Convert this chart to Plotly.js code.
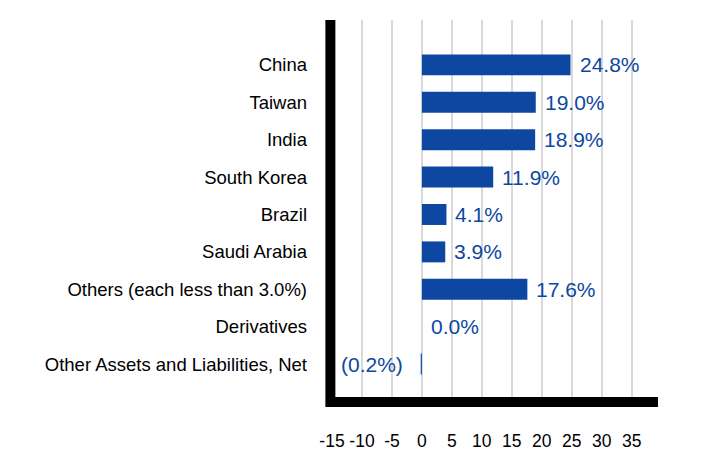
<!DOCTYPE html>
<html>
<head>
<meta charset="utf-8">
<script src="https://cdn.plot.ly/plotly-3.0.1.min.js"></script>
<style>
  html, body { margin: 0; padding: 0; background: #fff; }
  #plot { width: 708px; height: 468px; }
</style>
</head>
<body>
<div id="plot"></div>
<script>
// categories, top to bottom
let countries = [
  "China",
  "Taiwan",
  "India",
  "South Korea",
  "Brazil",
  "Saudi Arabia",
  "Others (each less than 3.0%)",
  "Derivatives",
  "Other Assets and Liabilities, Net"
];

// weights in percent
let weights = [24.8, 19.0, 18.9, 11.9, 4.1, 3.9, 17.6, 0.0, -0.2];

// label text shown next to each bar
let labels = ["24.8%", "19.0%", "18.9%", "11.9%", "4.1%", "3.9%", "17.6%", "0.0%", "(0.2%)"];

let xTicks = [-15, -10, -5, 0, 5, 10, 15, 20, 25, 30, 35];

let blue = "#0d47a1";
let fontFam = "'Liberation Sans', Arial, sans-serif";

let trace1 = {
  x: weights,
  y: countries,
  type: "bar",
  orientation: "h",
  width: 0.56,
  marker: { color: blue, line: { width: 0 } },
  hoverinfo: "none"
};

// value labels placed at the bar ends
let notes = countries.map((c, i) => ({
  x: weights[i],
  y: c,
  xref: "x",
  yref: "y",
  text: labels[i],
  showarrow: false,
  xanchor: weights[i] < 0 ? "right" : "left",
  xshift: weights[i] < 0 ? -16 : 7,
  font: { family: fontFam, size: 21, color: blue }
}));

let layout = {
  width: 708,
  height: 468,
  margin: { l: 331.7, r: 50, t: 20, b: 71 },
  paper_bgcolor: "#fff",
  plot_bgcolor: "#fff",
  showlegend: false,
  font: { family: fontFam, size: 16, color: "#000" },
  xaxis: {
    range: [-15, 39.4],
    tickvals: xTicks,
    ticktext: xTicks.map(String),
    showgrid: true,
    gridcolor: "#d9d9d9",
    gridwidth: 2,
    zeroline: false,
    showline: true,
    linecolor: "#000",
    linewidth: 10,
    ticks: "",
    ticklabelstandoff: 19,
    tickfont: { size: 17.5 },
    fixedrange: true
  },
  yaxis: {
    type: "category",
    categoryorder: "array",
    categoryarray: countries,
    range: [8.88, -1.2],
    showgrid: false,
    zeroline: false,
    showline: false,
    ticks: "",
    ticklabelstandoff: 24,
    tickfont: { size: 18.5 },
    fixedrange: true
  },
  // thick left axis bar
  shapes: [{
    type: "line",
    xref: "paper",
    yref: "paper",
    x0: -0.005,
    x1: -0.005,
    y0: -0.0265,
    y1: 1,
    line: { color: "#000", width: 10 }
  }],
  annotations: notes
};

Plotly.newPlot("plot", [trace1], layout, { displayModeBar: false, staticPlot: true });
</script>
</body>
</html>
